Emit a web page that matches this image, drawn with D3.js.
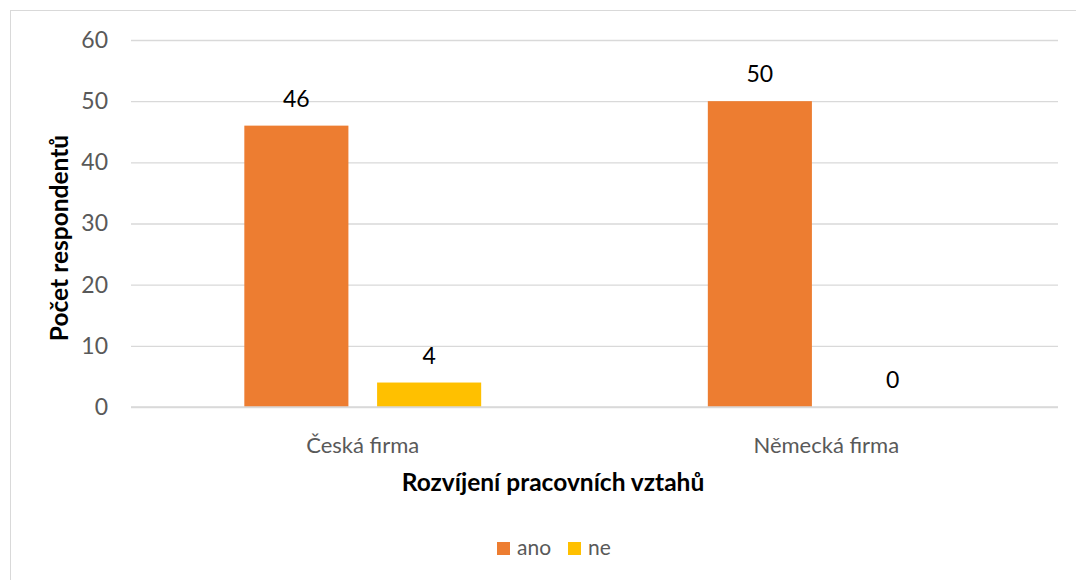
<!DOCTYPE html>
<html><head><meta charset="utf-8">
<script src="https://cdn.jsdelivr.net/npm/d3@7"></script>
<style>body{margin:0;background:#fff}svg{display:block;font-family:Lato,"Open Sans",sans-serif}</style>
</head><body><svg id="c" width="1076" height="580"></svg>
<script>
const categories = ["Česká firma", "Německá firma"];
const seriesNames = ["ano", "ne"];
const seriesColors = ["#ED7D31", "#FFC000"];
const ano = [46, 50];
const ne = [4, 0];
const yTicks = [0, 10, 20, 30, 40, 50, 60];
const xTitle = "Rozvíjení pracovních vztahů";
const yTitle = "Počet respondentů";

const values = [ano, ne];
const data = categories.map((c, i) => ({cat: c, vals: seriesNames.map((s, j) => ({s, v: values[j][i], color: seriesColors[j]}))}));

const svg = d3.select("#c");
svg.append("rect").attr("x", 10.5).attr("y", 10.5).attr("width", 1080).attr("height", 600)
  .attr("fill", "#fff").attr("stroke", "#D9D9D9").attr("stroke-width", 1);

const L = 131, R = 1058, T = 40, B = 407;
const x0 = d3.scaleBand().domain(categories).range([L, R]).paddingInner(0.489).paddingOuter(0.2445);
const x1 = d3.scaleBand().domain(seriesNames).range([0, x0.bandwidth()]).paddingInner(0.216).paddingOuter(0);
const y = d3.scaleLinear().domain([0, 60]).range([B, T]);

// gridlines
const grid = svg.append("g").attr("transform", `translate(${L},0)`)
  .call(d3.axisLeft(y).tickValues(yTicks).tickSize(-(R - L)).tickFormat(""));
grid.select(".domain").remove();
grid.selectAll("line").attr("stroke", "#D9D9D9").attr("stroke-width", 1.3);

// y tick labels
const ya = svg.append("g").attr("transform", `translate(${L},0)`)
  .call(d3.axisLeft(y).tickValues(yTicks).tickSize(0).tickPadding(23));
ya.select(".domain").remove();
ya.selectAll("text").attr("fill", "#595959").style("font-size", "23px").style("font-family", "Lato");

// bars
const g = svg.append("g").selectAll("g").data(data).join("g")
  .attr("transform", d => `translate(${x0(d.cat)},0)`);
g.selectAll("rect").data(d => d.vals).join("rect")
  .attr("x", d => x1(d.s)).attr("width", x1.bandwidth())
  .attr("y", d => y(d.v)).attr("height", d => B - y(d.v)).attr("fill", d => d.color);
g.selectAll("text").data(d => d.vals).join("text")
  .attr("x", d => x1(d.s) + x1.bandwidth() / 2).attr("y", d => y(d.v) - 19)
  .attr("text-anchor", "middle").attr("fill", "#000").style("font-size", "23px").text(d => d.v);

// baseline
svg.append("line").attr("x1", L).attr("x2", R).attr("y1", y(0)).attr("y2", y(0))
  .attr("stroke", "#D9D9D9").attr("stroke-width", 1.5);

// category labels
const xa = svg.append("g").attr("transform", `translate(0,${B})`)
  .call(d3.axisBottom(x0).tickSize(0).tickPadding(30));
xa.select(".domain").remove();
xa.selectAll("text").attr("fill", "#595959").style("font-size", "22px").style("font-family", "Lato");

// axis titles
svg.append("text").attr("x", 553).attr("y", 491).attr("text-anchor", "middle")
  .style("font-size", "24.5px").style("font-weight", "bold").attr("fill", "#000").text(xTitle);
svg.append("text").attr("transform", `translate(68,238) rotate(-90)`).attr("text-anchor", "middle")
  .style("font-size", "24.5px").style("font-weight", "bold").attr("fill", "#000").text(yTitle);

// legend
const leg = svg.append("g");
const legX = [497, 568];
seriesNames.forEach((s, i) => {
  leg.append("rect").attr("x", legX[i]).attr("y", 542).attr("width", 13).attr("height", 13).attr("fill", seriesColors[i]);
  leg.append("text").attr("x", legX[i] + 20).attr("y", 555).attr("fill", "#595959")
    .style("font-size", "21px").text(s);
});
</script></body></html>
